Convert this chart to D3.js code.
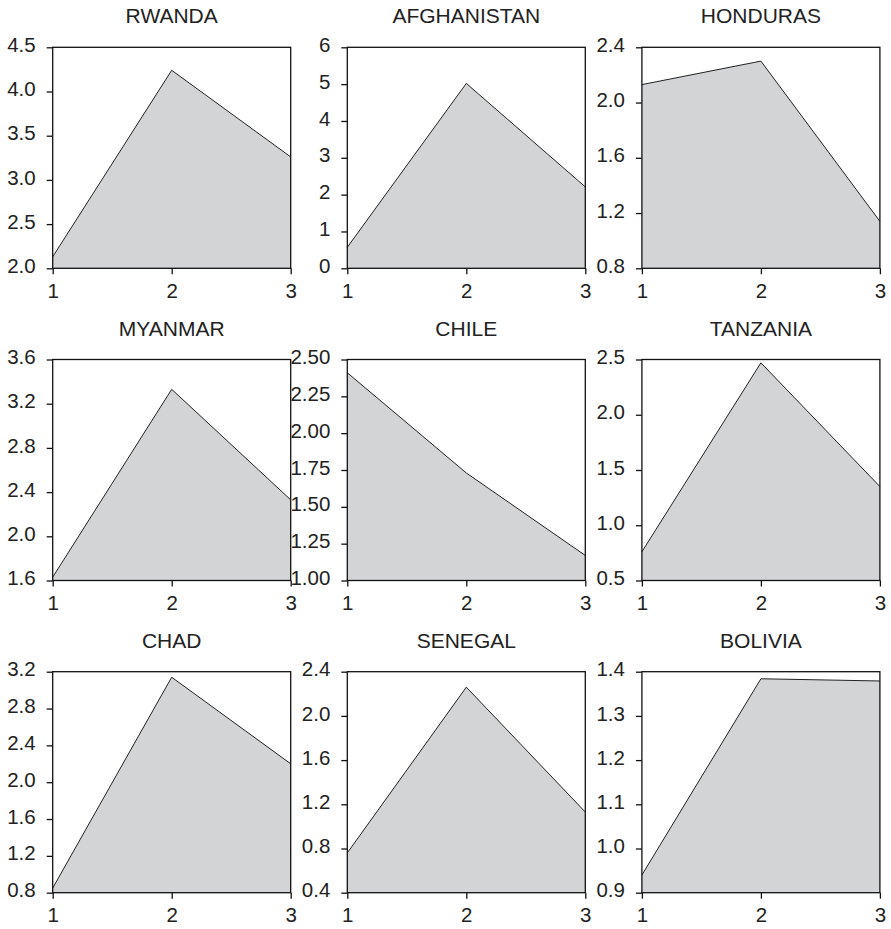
<!DOCTYPE html>
<html>
<head>
<meta charset="utf-8">
<script src="https://cdn.jsdelivr.net/npm/d3@7"></script>
<style>
  body { margin: 0; background: #fff; }
  svg { display: block; }
  text { font-family: "Liberation Sans", Arial, sans-serif; fill: #222; }
</style>
</head>
<body>
<svg id="chart" width="891" height="929"></svg>
<script>
// ---- Data ----
const countries = ["RWANDA", "AFGHANISTAN", "HONDURAS", "MYANMAR", "CHILE", "TANZANIA", "CHAD", "SENEGAL", "BOLIVIA"];
const periods = [1, 2, 3];

const rwanda      = [2.13, 4.24, 3.26];
const afghanistan = [0.57, 5.02, 2.21];
const honduras    = [2.13, 2.30, 1.14];
const myanmar     = [1.63, 3.33, 2.33];
const chile       = [2.41, 1.73, 1.17];
const tanzania    = [0.76, 2.47, 1.35];
const chad        = [0.85, 3.14, 2.20];
const senegal     = [0.76, 2.26, 1.13];
const bolivia     = [0.94, 1.384, 1.379];

const rwandaTicks      = [2.0, 2.5, 3.0, 3.5, 4.0, 4.5];
const afghanistanTicks = [0, 1, 2, 3, 4, 5, 6];
const hondurasTicks    = [0.8, 1.2, 1.6, 2.0, 2.4];
const myanmarTicks     = [1.6, 2.0, 2.4, 2.8, 3.2, 3.6];
const chileTicks       = [1.00, 1.25, 1.50, 1.75, 2.00, 2.25, 2.50];
const tanzaniaTicks    = [0.5, 1.0, 1.5, 2.0, 2.5];
const chadTicks        = [0.8, 1.2, 1.6, 2.0, 2.4, 2.8, 3.2];
const senegalTicks     = [0.4, 0.8, 1.2, 1.6, 2.0, 2.4];
const boliviaTicks     = [0.9, 1.0, 1.1, 1.2, 1.3, 1.4];

const tickFormats = [".1f", "d", ".1f", ".1f", ".2f", ".1f", ".1f", ".1f", ".1f"];

const seriesList = [rwanda, afghanistan, honduras, myanmar, chile, tanzania, chad, senegal, bolivia];
const ticksList  = [rwandaTicks, afghanistanTicks, hondurasTicks, myanmarTicks, chileTicks, tanzaniaTicks, chadTicks, senegalTicks, boliviaTicks];

// ---- Layout ----
const svg = d3.select("#chart");
const plotW = 238, plotH = 221;
const colX = c => 52.7 + c * 294.6;
const rowY = r => 47.3 + r * 312.2;

countries.forEach((name, i) => {
  const col = i % 3, row = Math.floor(i / 3);
  const g = svg.append("g").attr("transform", `translate(${colX(col)},${rowY(row)})`);
  const ticks = ticksList[i];
  const vals = seriesList[i];

  const x = d3.scaleLinear().domain([1, 3]).range([0, plotW]);
  const y = d3.scaleLinear().domain([d3.min(ticks), d3.max(ticks)]).range([plotH, 0]);

  const data = periods.map((p, k) => ({ p, v: vals[k] }));

  const area = d3.area().x(d => x(d.p)).y0(plotH).y1(d => y(d.v));
  const line = d3.line().x(d => x(d.p)).y(d => y(d.v));

  g.append("path").datum(data).attr("d", area).attr("fill", "#d3d4d6");
  g.append("path").datum(data).attr("d", line)
    .attr("fill", "none").attr("stroke", "#222").attr("stroke-width", 1);

  g.append("rect").attr("x", 0).attr("y", 0).attr("width", plotW).attr("height", plotH)
    .attr("fill", "none").attr("stroke", "#111").attr("stroke-width", 1.3);

  const yAxis = d3.axisLeft(y).tickValues(ticks).tickFormat(d3.format(tickFormats[i]))
    .tickSize(6).tickPadding(11);
  const ya = g.append("g").call(yAxis);
  ya.select(".domain").remove();
  ya.selectAll("line").attr("stroke", "#111").attr("stroke-width", 1.3);
  ya.selectAll("text").attr("font-size", 20.5).attr("fill", "#222")
    .attr("font-family", "'Liberation Sans', Arial, sans-serif").attr("dy", "0.2em");

  const xAxis = d3.axisBottom(x).tickValues(periods).tickFormat(d3.format("d"))
    .tickSize(6).tickPadding(9);
  const xa = g.append("g").attr("transform", `translate(0,${plotH})`).call(xAxis);
  xa.select(".domain").remove();
  xa.selectAll("line").attr("stroke", "#111").attr("stroke-width", 1.3);
  xa.selectAll("text").attr("font-size", 20.5).attr("fill", "#222")
    .attr("font-family", "'Liberation Sans', Arial, sans-serif");

  g.append("text").attr("x", plotW / 2).attr("y", -24)
    .attr("text-anchor", "middle").attr("font-size", 21)
    .text(name);
});
</script>
</body>
</html>
